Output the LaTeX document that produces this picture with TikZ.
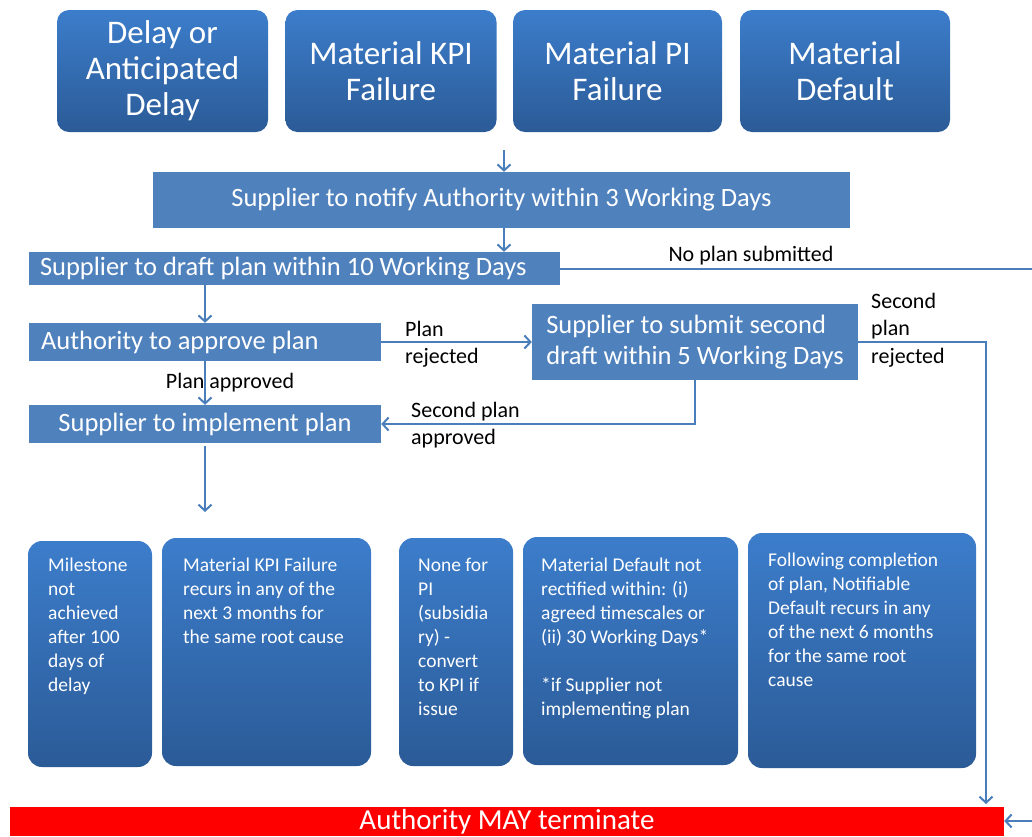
\documentclass[tikz,border=0pt]{standalone}
\usepackage{fontspec}
\setmainfont{Carlito}
\usepackage{xcolor}
\usetikzlibrary{arrows.meta}
\definecolor{flatblue}{HTML}{4F81BD}
\definecolor{lineblue}{HTML}{4A7EBB}
\definecolor{gradtop}{HTML}{3C7DCB}
\definecolor{gradbot}{HTML}{2B5B97}
\tikzset{
	>={Straight Barb[length=6pt,width=13pt]},
	triggerbox/.style={rounded corners=12pt, top color=gradtop, bottom color=gradbot, text=white, align=center, inner sep=0pt, font=\fontsize{33}{36}\selectfont},
	stagebox/.style={fill=flatblue, text=white, align=flush left, inner sep=0pt, font=\fontsize{26.5}{31}\selectfont},
	limitbox/.style={rounded corners=14pt, top color=gradtop, bottom color=gradbot},
	limittext/.style={anchor=north west, text=white, align=left, inner sep=0pt, font=\fontsize{19.5}{24}\selectfont},
	flowlabel/.style={text=black, align=left, inner sep=0pt, font=\fontsize{22}{27.5}\selectfont},
	flowline/.style={draw=lineblue, line width=2pt, ->},
}

\begin{document}
\begin{tikzpicture}[x=1pt, y=-1pt]
	\useasboundingbox (0, 0) rectangle (1032, 836);
	% triggers
	\node(delay)[triggerbox, minimum width=211pt, minimum height=122pt] at (162.5, 71) {Delay or\\Anticipated\\Delay};
	\node(kpifail)[triggerbox, minimum width=211pt, minimum height=122pt] at (391, 71) {Material KPI\\Failure};
	\node(pifail)[triggerbox, minimum width=209pt, minimum height=122pt] at (617.5, 71) {Material PI\\Failure};
	\node(matdef)[triggerbox, minimum width=210pt, minimum height=122pt] at (845, 71) {Material\\Default};
	% plan steps
	\node(notify)[stagebox, minimum width=697pt, minimum height=56pt] at (501.5, 200) {Supplier to notify Authority within 3 Working Days};
	\node(draft)[stagebox, minimum width=531pt, minimum height=33pt, text width=509pt] at (294.5, 268.5) {Supplier to draft plan within 10 Working Days};
	\node(approve)[stagebox, minimum width=352pt, minimum height=38pt, text width=328pt] at (205, 342) {Authority to approve plan};
	\node(second)[stagebox, minimum width=326pt, minimum height=76pt] at (695, 342) {Supplier to submit second\\draft within 5 Working Days};
	\node(implement)[stagebox, minimum width=352pt, minimum height=38pt] at (205, 424) {Supplier to implement plan};
	% labels
	\node(noplanlbl)[flowlabel] at (751, 256) {No plan submitted};
	\node(rejlbl)[flowlabel, anchor=west] at (405, 344) {Plan\\rejected};
	\node(secrejlbl)[flowlabel, anchor=west] at (871, 330) {Second\\plan\\rejected};
	\node(secapplbl)[flowlabel, anchor=west] at (411, 425) {Second plan\\approved};
	\node(applbl)[flowlabel] at (230, 383) {Plan approved};
	% termination limits
	\node(miss)[limitbox, minimum width=124pt, minimum height=226pt] at (90, 654) {};
	\node(kpirec)[limitbox, minimum width=209pt, minimum height=228pt] at (266.5, 652) {};
	\node(pinone)[limitbox, minimum width=114pt, minimum height=228pt] at (456, 652) {};
	\node(defrect)[limitbox, minimum width=215pt, minimum height=228pt] at (630.5, 651) {};
	\node(notifrec)[limitbox, minimum width=228pt, minimum height=235pt] at (862, 650.5) {};
	\node(misstxt)[limittext] at (48, 558) {Milestone\\not\\achieved\\after 100\\days of\\delay};
	\node(kpirectxt)[limittext] at (183, 558) {Material KPI Failure\\recurs in any of the\\next 3 months for\\the same root cause};
	\node(pinonetxt)[limittext] at (418, 558) {None for\\PI\\(subsidia\\ry) -\\convert\\to KPI if\\issue};
	\node(defrecttxt)[limittext] at (541, 558) {Material Default not\\rectified within: (i)\\agreed timescales or\\(ii) 30 Working Days*\\[24pt]*if Supplier not\\implementing plan};
	\node(notifrectxt)[limittext] at (768, 553) {Following completion\\of plan, Notifiable\\Default recurs in any\\of the next 6 months\\for the same root\\cause};
	\node(term)[fill=red, text=white, inner sep=0pt, minimum width=994pt, minimum height=29pt, font=\fontsize{29}{34}\selectfont] at (507, 821.5) {Authority MAY terminate};
	% free ends
	\coordinate(topin) at (504, 150);
	\coordinate(noplanend) at (1034, 268.5);
	\coordinate(implout) at (205, 512);
	\coordinate(railend) at (986, 804);
	\coordinate(termin) at (1034, 821);
	% connectors
	\draw[flowline] (topin) -- (topin |- notify.north);
	\draw[flowline] (notify.south -| topin) -- (topin |- draft.north);
	\draw[flowline, -] (draft.east) -- (noplanend);
	\draw[flowline] (approve.north |- draft.south) -- (approve.north);
	\draw[flowline] (approve.south) -- (implement.north);
	\draw[flowline] (approve.east) -- (approve.east -| second.west);
	\draw[flowline] (second.south) |- (implement.east);
	\draw[flowline] (second.east) -| (railend);
	\draw[flowline] ([yshift=-3pt]implement.south) -- (implout);
	\draw[flowline] (termin) -- (termin -| term.east);
\end{tikzpicture}
\end{document}
